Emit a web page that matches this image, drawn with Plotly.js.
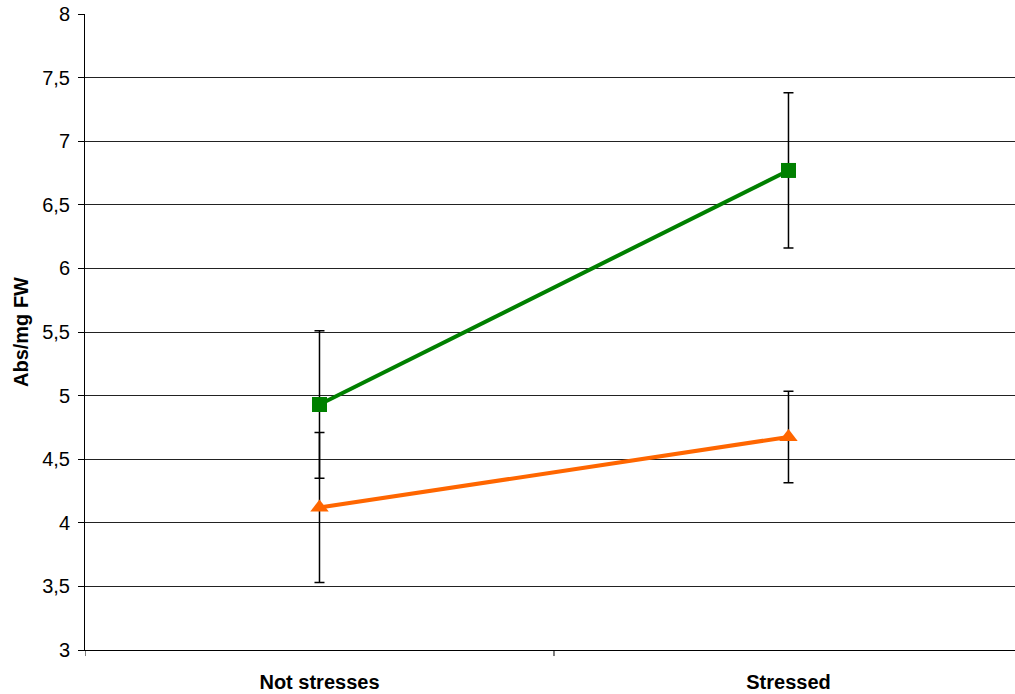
<!DOCTYPE html>
<html>
<head>
<meta charset="utf-8">
<script src="https://cdn.plot.ly/plotly-3.0.1.min.js"></script>
<style>
  html, body { margin: 0; padding: 0; background: #ffffff; }
  #chart { width: 1015px; height: 694px; }
</style>
</head>
<body>
<div id="chart"></div>
<script>
// Treatment groups on the category axis
const categories = ['Not stresses', 'Stressed'];
const categoryPos = [0, 1];

// Absorbance per mg fresh weight, with standard deviations
const greenValues = [4.93, 6.77];
const greenErrors = [0.58, 0.61];
const orangeValues = [4.12, 4.675];
const orangeErrors = [0.59, 0.36];

const yTicks = [3, 3.5, 4, 4.5, 5, 5.5, 6, 6.5, 7, 7.5, 8];

const font = 'Liberation Sans, Arial, sans-serif';

const traces = [
  {
    x: categoryPos,
    y: greenValues,
    type: 'scatter',
    mode: 'lines+markers',
    line: { color: '#008000', width: 4 },
    marker: { symbol: 'square', size: 15, color: '#008000' },
    error_y: { type: 'data', array: greenErrors, visible: true, color: '#000000', thickness: 1.5, width: 5 },
    hoverinfo: 'none'
  },
  {
    x: categoryPos,
    y: orangeValues,
    type: 'scatter',
    mode: 'lines+markers',
    line: { color: '#FF6600', width: 4 },
    marker: { symbol: 'triangle-up', size: 16, color: '#FF6600' },
    error_y: { type: 'data', array: orangeErrors, visible: true, color: '#000000', thickness: 1.5, width: 5 },
    hoverinfo: 'none'
  }
];

// Small tick marks at the category boundaries
const boundaryTicks = [-0.5, 0.5, 1.5].map(v => ({
  type: 'line', xref: 'x', yref: 'paper',
  x0: v, x1: v, y0: 0, y1: -0.0095,
  line: { color: '#000000', width: 1 }
}));

const layout = {
  width: 1015,
  height: 694,
  margin: { l: 85, r: 0, t: 14, b: 44 },
  paper_bgcolor: '#ffffff',
  plot_bgcolor: '#ffffff',
  showlegend: false,
  separators: ', ',
  font: { family: font, color: '#000000', size: 20 },
  xaxis: {
    range: [-0.5, 1.483],
    tickmode: 'array',
    tickvals: categoryPos,
    ticktext: categories,
    ticks: 'outside',
    ticklen: 14,
    tickcolor: 'rgba(0,0,0,0)',
    tickfont: { family: font, size: 20, color: '#000000', weight: 'bold' },
    showgrid: false,
    zeroline: false,
    showline: true,
    linecolor: '#000000',
    linewidth: 1,
    fixedrange: true
  },
  yaxis: {
    range: [3, 8],
    tickmode: 'array',
    tickvals: yTicks,
    ticks: 'outside',
    ticklen: 6,
    tickcolor: '#000000',
    ticklabelstandoff: 4,
    tickfont: { family: font, size: 20, color: '#000000' },
    showgrid: true,
    gridcolor: '#222222',
    gridwidth: 1,
    zeroline: false,
    showline: true,
    linecolor: '#000000',
    linewidth: 1,
    title: {
      text: 'Abs/mg FW',
      font: { family: font, size: 20, color: '#000000', weight: 'bold' },
      standoff: 8
    },
    fixedrange: true
  },
  shapes: boundaryTicks
};

Plotly.newPlot('chart', traces, layout, { displayModeBar: false, staticPlot: true });
</script>
</body>
</html>
